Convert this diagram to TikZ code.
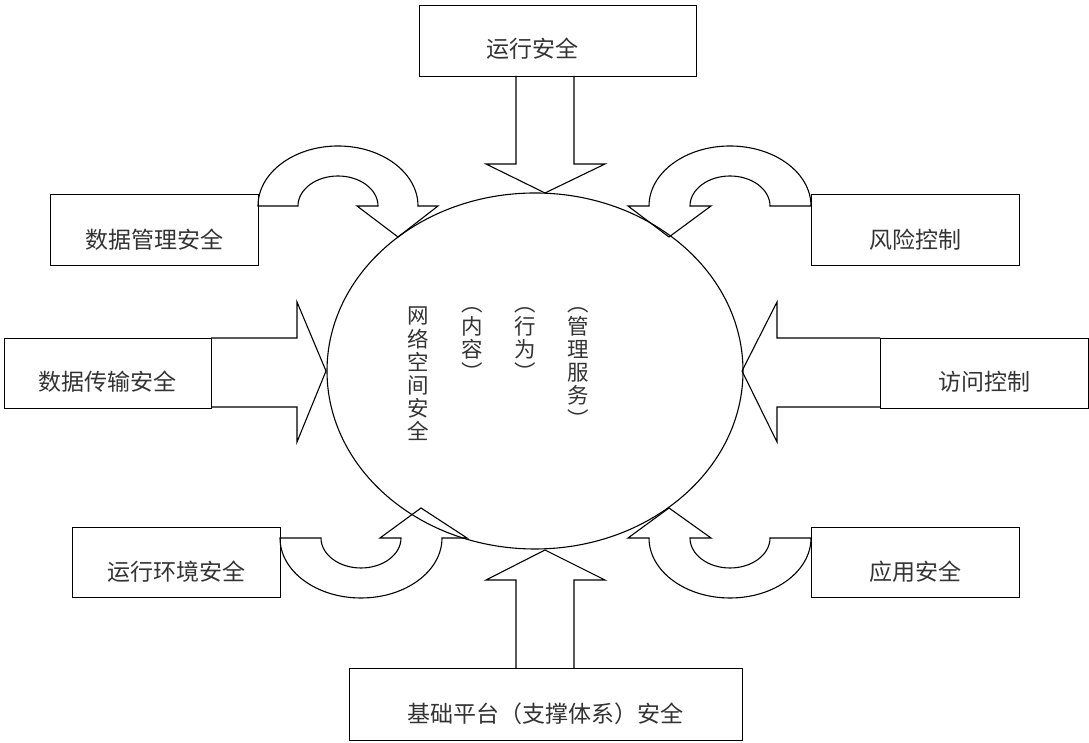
\documentclass[tikz,border=0pt]{standalone}
\usepackage{fontspec}
\usetikzlibrary{shapes.geometric}
\newfontfamily\cjk{Noto Sans CJK SC}
\tikzset{
  x=1pt, y=1pt,
  frame/.style={draw=black, line width=1pt, rectangle, inner sep=0pt, anchor=north west},
  lbl/.style={font=\cjk\fontsize{23}{25}\selectfont, inner sep=0pt, text=black!80},
  col/.style={font=\cjk\fontsize{21.5}{23.2}\selectfont, inner sep=0pt, anchor=north, align=center, text=black!80},
  outl/.style={draw=black, line width=1.1pt, line join=miter},
}
\begin{document}
\begin{tikzpicture}
\useasboundingbox (0,0) rectangle (1089,743);
% boxes
\node[frame, minimum width=277pt, minimum height=71pt] (top) at (419,738) {};
\node[frame, minimum width=208pt, minimum height=71pt] (tl) at (50,549) {};
\node[frame, minimum width=208pt, minimum height=71pt] (tr) at (811,549) {};
\node[frame, minimum width=207pt, minimum height=70pt] (ml) at (4,405) {};
\node[frame, minimum width=208pt, minimum height=70pt] (mr) at (880,405) {};
\node[frame, minimum width=208pt, minimum height=70pt] (bl) at (72,216) {};
\node[frame, minimum width=208pt, minimum height=70pt] (br) at (811,216) {};
\node[frame, minimum width=393pt, minimum height=72pt] (bot) at (349,75) {};
% labels
\node[lbl] (ltop) at (532,694) {运行安全};
\node[lbl] (ltl) at (154,503) {数据管理安全};
\node[lbl] (ltr) at (915,503) {风险控制};
\node[lbl] (lml) at (107,361) {数据传输安全};
\node[lbl] (lmr) at (984,361) {访问控制};
\node[lbl] (lbl1) at (176,171) {运行环境安全};
\node[lbl] (lbr) at (915,171) {应用安全};
\node[lbl] (lbot) at (545,29) {基础平台（支撑体系）安全};
% central ellipse
\node[ellipse, draw=black, line width=1.1pt, inner sep=0pt, minimum width=416pt, minimum height=356pt] (core) at (535,372) {};
% vertical texts
\node[col] (c1) at (418,436) {网\\络\\空\\间\\安\\全};
\node[col] (c2) at (472,436) {︵\\内\\容\\︶};
\node[col] (c3) at (525,436) {︵\\行\\为\\︶};
\node[col] (c4) at (578,436) {︵\\管\\理\\服\\务\\︶};
% straight arrows
\draw[outl] (516,667) -- (516,579) -- (486,579) -- (545,550) -- (605,579) -- (574,579) -- (574,667);
\draw[outl] (516,75) -- (516,163) -- (486,163) -- (545,193) -- (605,163) -- (574,163) -- (574,75);
\draw[outl] (211,405) -- (297,405) -- (297,441) -- (326,372) -- (297,301) -- (297,336) -- (211,336);
\draw[outl] (880,405) -- (777,405) -- (777,441) -- (742,372) -- (777,301) -- (777,336) -- (880,336);
% curved arrows
\draw[outl] (258,537) arc[start angle=180, end angle=0, x radius=80pt, y radius=60pt]
  -- (438,537) -- (398,506) -- (357,537) -- (378,537)
  arc[start angle=0, end angle=180, x radius=40pt, y radius=30pt] -- cycle;
\draw[outl] (811,537) arc[start angle=0, end angle=180, x radius=81pt, y radius=60pt]
  -- (628,537) -- (669,506) -- (711,537) -- (690,537)
  arc[start angle=180, end angle=0, x radius=40pt, y radius=30pt] -- cycle;
\draw[outl] (280,205) arc[start angle=180, end angle=360, x radius=81pt, y radius=60pt]
  -- (467,205) -- (421,235) -- (380,205) -- (401,205)
  arc[start angle=360, end angle=180, x radius=40pt, y radius=30pt] -- cycle;
\draw[outl] (811,205) arc[start angle=0, end angle=-180, x radius=81pt, y radius=60pt]
  -- (628,205) -- (669,235) -- (711,205) -- (690,205)
  arc[start angle=180, end angle=360, x radius=40pt, y radius=30pt] -- cycle;
\end{tikzpicture}
\end{document}
